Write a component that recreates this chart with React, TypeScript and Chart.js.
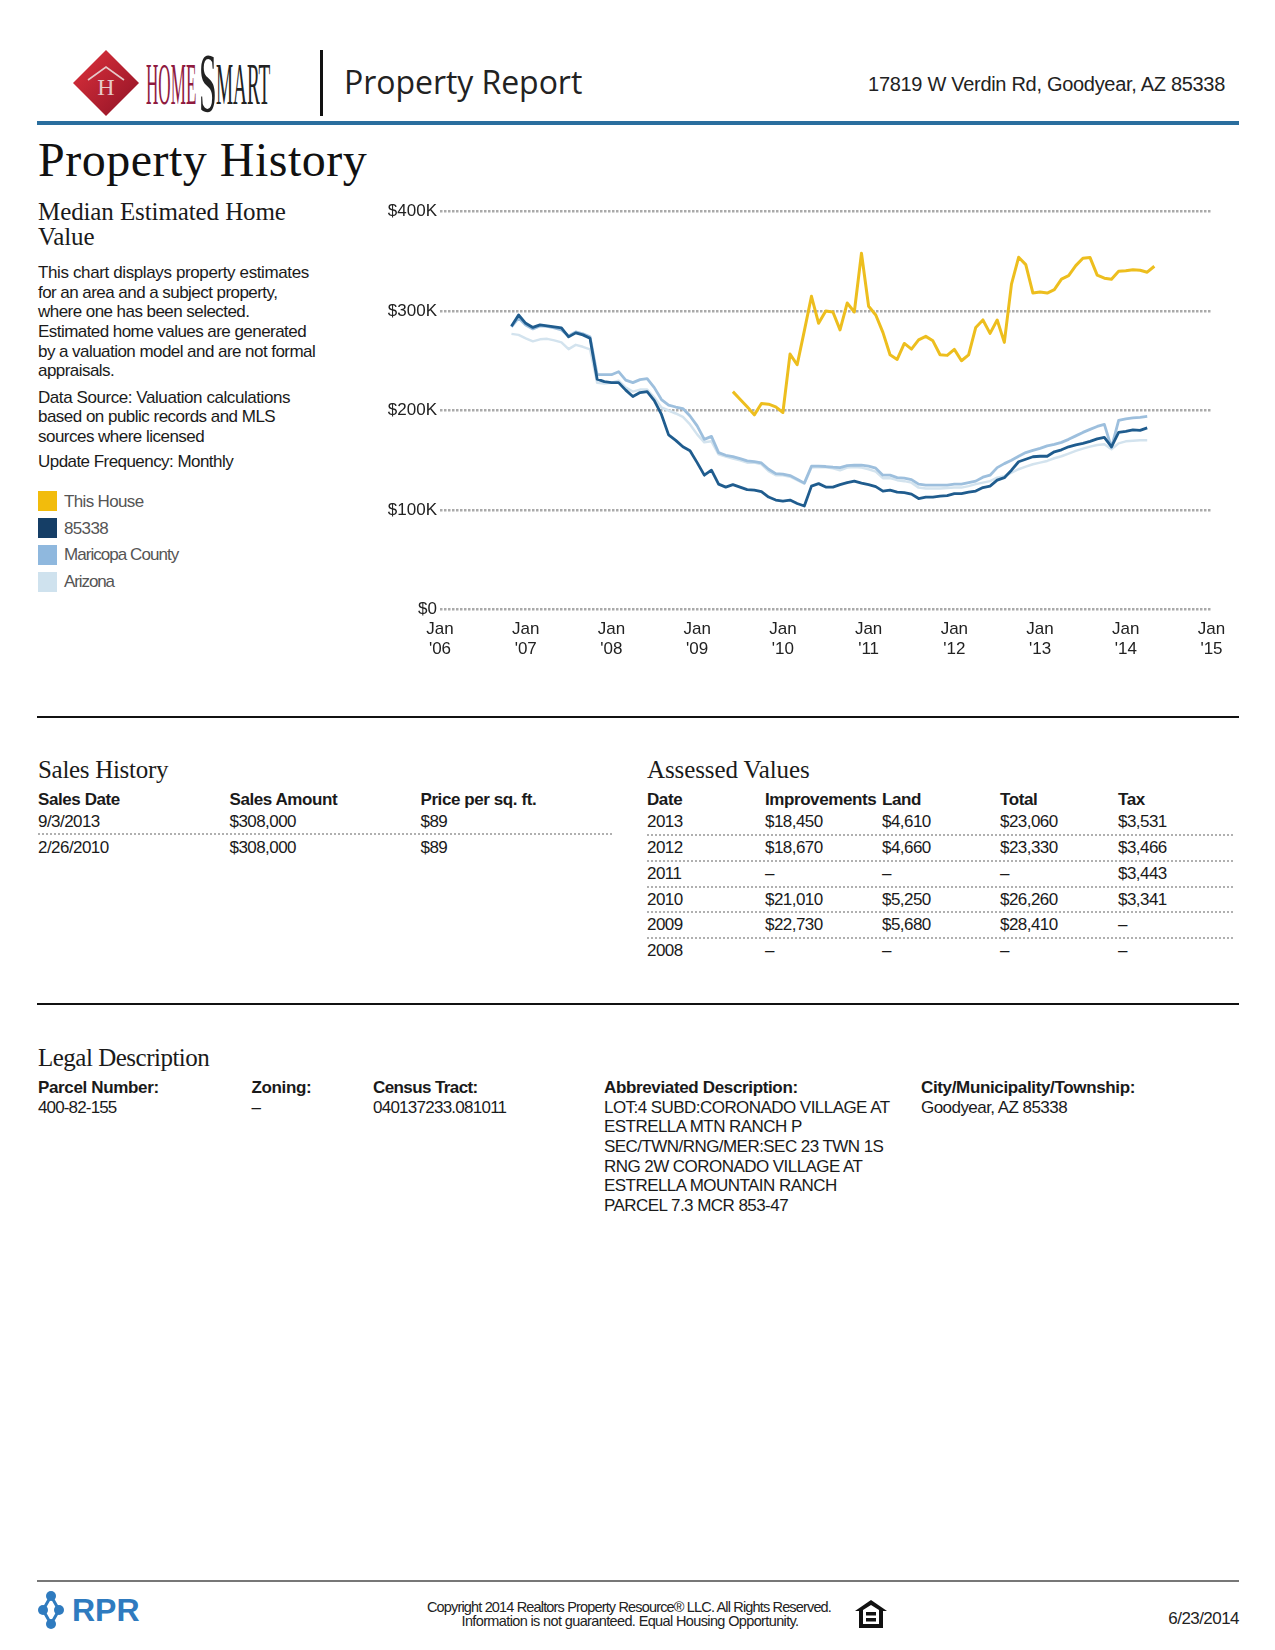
import React, { useEffect, useRef } from "react";
import { Chart, registerables } from "chart.js";

Chart.register(...registerables);

const yearTicks = ["'06", "'07", "'08", "'09", "'10", "'11", "'12", "'13", "'14", "'15"];
const monthNames = ["Jan", "Feb", "Mar", "Apr", "May", "Jun", "Jul", "Aug", "Sep", "Oct", "Nov", "Dec"];
const months: string[] = [];
yearTicks.forEach((yr, i) => {
  monthNames.forEach((m, j) => {
    if (i < 9 || j === 0) months.push(`${m} ${yr}`);
  });
});

const houseStart = 41;
const houseValues = [
  219, 211.4, 203.7, 195.6, 207, 206.4, 203.7, 198, 256.7, 246, 280, 314.8, 287.6, 300, 299, 281, 308, 299, 358,
  304.7, 296, 278.5, 256, 251.3, 267.4, 261.7, 271, 274.5, 270, 256, 255.4, 261.4, 250, 256, 283.5, 291, 277.5,
  291, 268.5, 327, 354, 346.6, 318, 319, 318, 321.5, 332, 335.5, 345.6, 353, 353.7, 336, 333, 332, 340, 340.4,
  341.4, 341, 339, 345,
];
const areaStart = 10;
const zipValues = [
  284.6, 296, 287.6, 283.5, 286, 285, 284, 283, 274, 278, 276, 272.5, 231.5, 229, 228, 228, 220.5, 214, 218, 219,
  210, 196, 175.5, 170, 163.5, 159.5, 147.6, 135, 140, 126, 123, 125.5, 123, 120.5, 120, 118.5, 113, 110, 109, 110,
  106.5, 104, 124, 126.5, 123, 123, 125.5, 127.5, 129, 127, 125.5, 123.5, 119, 120, 118, 117.5, 116, 111.5, 113,
  113, 114, 114.5, 116.5, 116.5, 118, 119, 122.5, 124, 130, 132.5, 140, 148.5, 151, 153.5, 154, 154, 158.5, 160.5,
  163.5, 165.5, 167, 169, 171.5, 173, 163.5, 178, 179, 180.5, 180, 182.5,
];
const countyValues = [
  284, 293, 286, 282, 285, 284.5, 283, 281, 275, 279, 277, 274, 236, 236, 236, 239, 230.5, 228, 231, 232, 223, 211,
  205.5, 203.5, 202, 194.5, 184.5, 171, 174, 157.7, 155, 153.7, 151.7, 149.3, 148.7, 147.3, 141, 136.6, 136, 134.6,
  131, 127, 144, 144, 143.7, 143, 142.6, 144.6, 145, 145, 144, 142, 135, 135, 132.5, 132, 130.5, 126, 125, 125, 125,
  125, 126, 126, 127.5, 129, 133, 135, 142.6, 146.6, 150, 154, 157.7, 160, 162, 164.5, 166, 168, 171, 174.5, 178,
  181, 184, 186, 162.7, 190, 191.6, 192.6, 193, 194,
];
const stateValues = [
  277, 276, 272.5, 269.5, 271.5, 272, 270.5, 268.5, 261.7, 266, 264, 261.5, 228, 227, 228, 230, 223, 219, 221, 221,
  213, 203, 200, 197, 193.6, 186, 176, 168, 169, 156, 153.7, 151.7, 150, 147.6, 147.6, 146, 139, 135, 135, 133.5,
  130, 126.5, 142.6, 143.3, 143, 142, 140, 142.6, 143.3, 142.6, 141, 138.6, 132, 132, 130, 129, 127.5, 122.5, 121.5,
  121.5, 121.5, 122, 122.5, 122.5, 124, 126, 127.5, 129, 132.5, 134, 137.6, 141, 143.6, 146, 147.6, 149.3, 152, 154,
  156.7, 159.4, 161.7, 163.7, 165.4, 166, 161, 167, 169, 169.5, 170, 170,
];

const legendItems = ["This House", "85338", "Maricopa County", "Arizona"];
const legendSpacing = [-0.65, -0.65, -0.95, -1.1];
const legendColors = ["#F2BC0C", "#153E66", "#8FB8DE", "#CFE2EE"];
const lineColors = ["#EDBE1E", "#1F5C8E", "#9DBFDD", "#D3E3EE"];

const descLines = [
  "This chart displays property estimates",
  "for an area and a subject property,",
  "where one has been selected.",
  "Estimated home values are generated",
  "by a valuation model and are not formal",
  "appraisals.",
];
const sourceLines = ["Data Source: Valuation calculations", "based on public records and MLS", "sources where licensed"];

const salesHeaders = ["Sales Date", "Sales Amount", "Price per sq. ft."];
const salesRows = [
  ["9/3/2013", "$308,000", "$89"],
  ["2/26/2010", "$308,000", "$89"],
];
const assessedHeaders = ["Date", "Improvements", "Land", "Total", "Tax"];
const assessedRows = [
  ["2013", "$18,450", "$4,610", "$23,060", "$3,531"],
  ["2012", "$18,670", "$4,660", "$23,330", "$3,466"],
  ["2011", "–", "–", "–", "$3,443"],
  ["2010", "$21,010", "$5,250", "$26,260", "$3,341"],
  ["2009", "$22,730", "$5,680", "$28,410", "–"],
  ["2008", "–", "–", "–", "–"],
];
const legalHeaders = ["Parcel Number:", "Zoning:", "Census Tract:", "Abbreviated Description:", "City/Municipality/Township:"];
const legalValues = ["400-82-155", "–", "040137233.081011", "", "Goodyear, AZ 85338"];
const abbrevLines = [
  "LOT:4 SUBD:CORONADO VILLAGE AT",
  "ESTRELLA MTN RANCH P",
  "SEC/TWN/RNG/MER:SEC 23 TWN 1S",
  "RNG 2W CORONADO VILLAGE AT",
  "ESTRELLA MOUNTAIN RANCH",
  "PARCEL 7.3 MCR 853-47",
];

const SANS = "'Liberation Sans', Arial, sans-serif";
const SERIF = "'Liberation Serif', serif";

function pad(start: number, vals: number[]) {
  return [...Array(start).fill(null), ...vals];
}

type TProps = {
  x: number;
  y: number;
  size?: number;
  bold?: boolean;
  color?: string;
  family?: string;
  ls?: number;
  right?: boolean;
  center?: boolean;
  children: React.ReactNode;
};
function T({ x, y, size = 17, bold, color = "#1a1a1a", family = SANS, ls = -0.55, right, center, children }: TProps) {
  const style: React.CSSProperties = {
    position: "absolute",
    top: y + (family === SANS ? 1 : 0) - size * 0.6,
    lineHeight: `${size * 1.2}px`,
    fontSize: size,
    fontFamily: family,
    fontWeight: bold ? 700 : 400,
    color,
    letterSpacing: ls,
    whiteSpace: "nowrap",
  };
  if (right) style.right = 1275 - x;
  else style.left = x;
  if (center) style.transform = "translateX(-50%)";
  return <div style={style}>{children}</div>;
}

function Rule({ x, y, w, h, color }: { x: number; y: number; w: number; h: number; color: string }) {
  return <div style={{ position: "absolute", left: x, top: y, width: w, height: h, background: color }} />;
}
function Dots({ x, y, w }: { x: number; y: number; w: number }) {
  return (
    <div
      style={{
        position: "absolute",
        left: x,
        top: y,
        width: w,
        height: 2,
        background: "repeating-linear-gradient(90deg, #b0b0b0 0, #b0b0b0 2px, transparent 2px, transparent 4px)",
      }}
    />
  );
}

function Trend() {
  const ref = useRef<HTMLCanvasElement>(null);
  useEffect(() => {
    if (!ref.current) return;
    const chart = new Chart(ref.current, {
      type: "line",
      data: {
        labels: months,
        datasets: [
          { label: legendItems[0], data: pad(houseStart, houseValues), borderColor: lineColors[0], borderWidth: 3 },
          { label: legendItems[1], data: pad(areaStart, zipValues), borderColor: lineColors[1], borderWidth: 2.8 },
          { label: legendItems[2], data: pad(areaStart, countyValues), borderColor: lineColors[2], borderWidth: 2.8 },
          { label: legendItems[3], data: pad(areaStart, stateValues), borderColor: lineColors[3], borderWidth: 2.5 },
        ],
      },
      options: {
        responsive: false,
        animation: false,
        layout: { autoPadding: false, padding: { left: 0, right: 38.5, top: 21.5, bottom: 0 } },
        elements: { point: { radius: 0 }, line: { tension: 0, borderJoinStyle: "round" } },
        plugins: { legend: { display: false }, tooltip: { enabled: false } },
        scales: {
          x: {
            grid: { display: false },
            border: { display: false },
            afterFit: (s: any) => {
              s.height = 60.5;
            },
            ticks: {
              autoSkip: false,
              maxRotation: 0,
              minRotation: 0,
              padding: 2,
              color: "#222",
              font: { family: SANS, size: 17, lineHeight: 1.17 },
              callback: (_v: any, i: number) => (i % 12 === 0 ? ["Jan", yearTicks[i / 12]] : ""),
            },
          },
          y: {
            min: 0,
            max: 400,
            border: { display: false, dash: [2.5, 1.5] },
            grid: { color: "#aaaaaa", lineWidth: 2.5, drawTicks: false },
            afterFit: (s: any) => {
              s.width = 70;
            },
            ticks: {
              stepSize: 100,
              padding: 3,
              color: "#222",
              font: { family: SANS, size: 17 },
              callback: (v: any) => (v === 0 ? "$0" : `$${v}K`),
            },
          },
        },
      },
    } as any);
    return () => chart.destroy();
  }, []);
  return (
    <canvas
      ref={ref}
      width={880}
      height={480}
      style={{ position: "absolute", left: 370, top: 190, width: 880, height: 480 }}
    />
  );
}

export default function App() {
  const assessedX = [647, 765, 882, 1000, 1118];
  const assessedY = [821, 847, 873, 899, 924, 950];
  const legalX = [38, 251.5, 373, 604, 921];
  const salesX = [38, 229.5, 420.5];
  return (
    <div style={{ position: "absolute", left: 0, top: 0, width: 1275, height: 1650, background: "#fff", overflow: "hidden" }}>
      {/* Header */}
      <svg style={{ position: "absolute", left: 68, top: 45 }} width={76} height={76} viewBox="0 0 76 76">
        <defs>
          <linearGradient id="dg" x1="0" y1="0" x2="1" y2="1">
            <stop offset="0" stopColor="#E0323C" />
            <stop offset="1" stopColor="#8E1226" />
          </linearGradient>
        </defs>
        <polygon points="38,5 71,38 38,71 5,38" fill="url(#dg)" />
        <polyline points="20,35 38,22 56,35" fill="none" stroke="#e6c9c9" strokeWidth="1.6" />
        <text x="38" y="50" textAnchor="middle" fontFamily={SERIF} fontSize="24" fill="#e6c9c9">
          H
        </text>
      </svg>
      <div style={{ position: "absolute", left: 146, top: 58, fontFamily: SERIF, fontSize: 60, lineHeight: "52px", height: 52, color: "#8F1A3F", transform: "scaleX(0.285)", transformOrigin: "0 50%", whiteSpace: "nowrap" }}>
        HOME
      </div>
      <div style={{ position: "absolute", left: 199, top: 50, fontFamily: SERIF, fontSize: 84, lineHeight: "68px", height: 68, color: "#222", transform: "scaleX(0.38)", transformOrigin: "0 50%", whiteSpace: "nowrap" }}>
        S
      </div>
      <div style={{ position: "absolute", left: 216, top: 58, fontFamily: SERIF, fontSize: 60, lineHeight: "52px", height: 52, color: "#222", transform: "scaleX(0.32)", transformOrigin: "0 50%", whiteSpace: "nowrap" }}>
        MART
      </div>
      <Rule x={320} y={50} w={3} h={66} color="#111" />
      <T x={344} y={82} size={32} family="'Open Sans', sans-serif" color="#222" ls={-0.05}>
        Property Report
      </T>
      <T x={1225} y={83} size={20} right color="#222" ls={-0.3}>
        17819 W Verdin Rd, Goodyear, AZ 85338
      </T>
      <Rule x={37} y={121} w={1202} h={4} color="#2A6E9E" />

      <T x={38} y={160} size={48} family={SERIF} color="#111" ls={0.5}>
        Property History
      </T>

      {/* Left column */}
      <T x={38} y={211.5} size={25} family={SERIF} ls={-0.1}>
        Median Estimated Home
      </T>
      <T x={38} y={237} size={25} family={SERIF} ls={-0.1}>
        Value
      </T>
      {descLines.map((l, i) => (
        <T key={l} x={38} y={[272.5, 292.5, 311.5, 331.5, 351.5, 370.5][i]} ls={i === 0 ? -0.38 : -0.55}>
          {l}
        </T>
      ))}
      {sourceLines.map((l, i) => (
        <T key={l} x={38} y={[397, 416, 436][i]} ls={i === 0 ? -0.43 : -0.52}>
          {l}
        </T>
      ))}
      <T x={38} y={461}>
        Update Frequency: Monthly
      </T>
      {legendItems.map((l, i) => (
        <React.Fragment key={l}>
          <Rule x={38} y={[491, 518, 545, 572][i]} w={19} h={20} color={legendColors[i]} />
          <T x={64} y={[501, 528, 554, 581][i]} color="#555" ls={legendSpacing[i]}>
            {l}
          </T>
        </React.Fragment>
      ))}

      <Trend />

      <Rule x={37} y={716} w={1202} h={2} color="#111" />

      {/* Sales history */}
      <T x={38} y={770} size={25} family={SERIF} ls={-0.3}>
        Sales History
      </T>
      {salesHeaders.map((h, i) => (
        <T key={h} x={salesX[i]} y={799} bold ls={-0.42}>
          {h}
        </T>
      ))}
      {salesRows.map((r, ri) =>
        r.map((c, ci) => (
          <T key={`${ri}-${ci}`} x={salesX[ci]} y={[821, 847][ri]}>
            {c}
          </T>
        ))
      )}
      <Dots x={38} y={833} w={576} />

      {/* Assessed values */}
      <T x={647} y={770} size={25} family={SERIF} ls={-0.1}>
        Assessed Values
      </T>
      {assessedHeaders.map((h, i) => (
        <T key={h} x={assessedX[i]} y={799} bold ls={-0.42}>
          {h}
        </T>
      ))}
      {assessedRows.map((r, ri) =>
        r.map((c, ci) => (
          <T key={`${ri}-${ci}`} x={assessedX[ci]} y={assessedY[ri]}>
            {c}
          </T>
        ))
      )}
      {[834, 860, 886, 911, 937].map((y) => (
        <Dots key={y} x={647} y={y} w={586} />
      ))}

      <Rule x={37} y={1003} w={1202} h={2} color="#111" />

      {/* Legal */}
      <T x={38} y={1058} size={25} family={SERIF} ls={-0.5}>
        Legal Description
      </T>
      {legalHeaders.map((h, i) => (
        <T key={h} x={legalX[i]} y={1087} bold ls={i === 2 ? -0.6 : -0.35}>
          {h}
        </T>
      ))}
      {legalValues.map((v, i) =>
        v ? (
          <T key={v} x={legalX[i]} y={1107} ls={i === 0 ? -0.85 : i === 2 ? -0.75 : -0.55}>
            {v}
          </T>
        ) : null
      )}
      {abbrevLines.map((l, i) => (
        <T key={l} x={604} y={[1107, 1126, 1146, 1166, 1185, 1205][i]}>
          {l}
        </T>
      ))}

      {/* Footer */}
      <Rule x={37} y={1580} w={1202} h={2} color="#777" />
      <svg style={{ position: "absolute", left: 38, top: 1590 }} width={32} height={40} viewBox="0 0 32 40">
        <circle cx="13" cy="6" r="5" fill="#2F7BBF" />
        <circle cx="5" cy="20" r="5" fill="#2F7BBF" />
        <circle cx="21" cy="20" r="5" fill="#2F7BBF" />
        <circle cx="13" cy="34" r="5" fill="#2F7BBF" />
        <path d="M13 6 L21 20 L13 34 L5 20 Z" fill="none" stroke="#2F7BBF" strokeWidth="3" />
      </svg>
      <T x={72} y={1609} size={32} bold color="#2F7BBF" ls={0}>
        RPR
      </T>
      <T x={629} y={1607} size={14.5} center color="#222" ls={-0.84}>
        Copyright 2014 Realtors Property Resource® LLC. All Rights Reserved.
      </T>
      <T x={630} y={1621} size={14.5} center color="#222" ls={-0.63}>
        Information is not guaranteed. Equal Housing Opportunity.
      </T>
      <svg style={{ position: "absolute", left: 854, top: 1598 }} width={34} height={32} viewBox="0 0 34 32">
        <path d="M17 2 L33 13 L29 13 L29 30 L5 30 L5 13 L1 13 Z M9 12 L9 26 L25 26 L25 12 L17 7 Z" fill="#111" fillRule="evenodd" />
        <rect x="12" y="14" width="10" height="3.5" fill="#111" />
        <rect x="12" y="20" width="10" height="3.5" fill="#111" />
      </svg>
      <T x={1239} y={1618} right size={17} color="#222">
        6/23/2014
      </T>
    </div>
  );
}
